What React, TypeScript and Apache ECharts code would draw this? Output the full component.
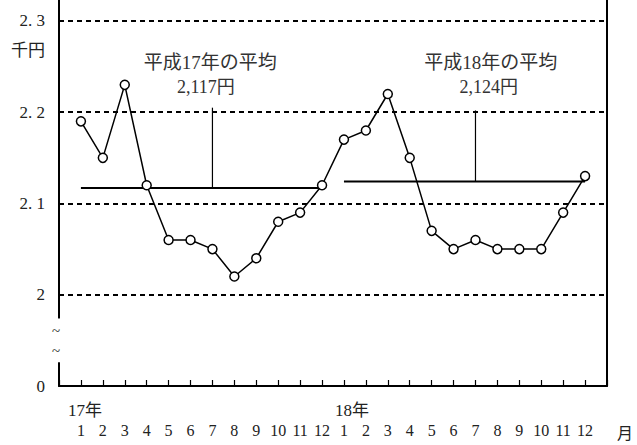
import React, { useEffect, useRef } from "react";
import * as echarts from "echarts";

const values17 = [2.19, 2.15, 2.23, 2.12, 2.06, 2.06, 2.05, 2.02, 2.04, 2.08, 2.09, 2.12];
const values18 = [2.17, 2.18, 2.22, 2.15, 2.07, 2.05, 2.06, 2.05, 2.05, 2.05, 2.09, 2.13];
const averages = [2.117, 2.124];
const avgMarkerTop = [2.205, 2.202];
const avgMarkerMonth = [7, 19];
const avgTitles = ["平成17年の平均", "平成18年の平均"];
const avgTexts = ["2,117円", "2,124円"];
const yearLabels = ["17年", "18年"];
const yTickValues = [1.9, 2.0, 2.1, 2.2, 2.3];
const yTickLabels = ["0", "2", "2. 1", "2. 2", "2. 3"];
const monthLabels = ["1", "2", "3", "4", "5", "6", "7", "8", "9", "10", "11", "12"];
const unitY = "千円";
const unitX = "月";

const FONT = "'Liberation Serif', 'Noto Sans CJK JP', serif";
const TXT = "#222";

export default function App() {
  const ref = useRef<HTMLDivElement>(null);
  useEffect(() => {
    if (!ref.current) return;
    const chart = echarts.init(ref.current, undefined, { renderer: "svg" });
    const mainData = [...values17, ...values18].map((v, i) => [i + 1, v]);
    const avgSeries: any[] = [];
    averages.forEach((a, k) => {
      avgSeries.push({
        type: "line",
        data: [[k * 12 + 1, a], [k * 12 + 12, a]],
        symbol: "none",
        lineStyle: { color: "#000", width: 2 },
        z: 2,
      });
      avgSeries.push({
        type: "line",
        data: [[avgMarkerMonth[k], a], [avgMarkerMonth[k], avgMarkerTop[k]]],
        symbol: "none",
        lineStyle: { color: "#000", width: 1.2 },
        z: 2,
      });
    });
    const axisLineStyle = { color: "#000", width: 2 };
    const option: any = {
      animation: false,
      backgroundColor: "#fff",
      textStyle: { fontFamily: FONT },
      grid: { left: 59, right: 30, top: 0, bottom: 59, containLabel: false },
      xAxis: {
        type: "value",
        min: 0,
        max: 25,
        interval: 1,
        axisLine: { show: true, onZero: false, lineStyle: axisLineStyle },
        axisTick: { show: true, inside: true, length: 6, lineStyle: { color: "#000", width: 1.2 } },
        axisLabel: {
          margin: 36,
          fontSize: 16,
          color: TXT,
          fontFamily: FONT,
          showMinLabel: true,
          showMaxLabel: true,
          formatter: (v: number) => {
            const r = Math.round(v);
            if (r < 1 || r > 24) return "";
            return monthLabels[(r - 1) % 12];
          },
        },
        splitLine: { show: false },
      },
      yAxis: [
        {
          type: "value",
          min: 1.9,
          max: 2.323,
          interval: 0.1,
          position: "left",
          axisLine: { show: true, lineStyle: axisLineStyle },
          axisTick: { show: false },
          axisLabel: {
            margin: 14,
            fontSize: 17,
            color: TXT,
            fontFamily: FONT,
            showMaxLabel: false,
            formatter: (v: number) => {
              const idx = yTickValues.findIndex((t) => Math.abs(t - v) < 1e-6);
              return idx >= 0 ? yTickLabels[idx] : "";
            },
          },
          splitLine: {
            show: true,
            showMinLine: false,
            showMaxLine: false,
            lineStyle: { type: [5, 4], color: "#000", width: 2 },
          },
        },
        {
          type: "value",
          min: 1.9,
          max: 2.323,
          position: "right",
          axisLine: { show: true, lineStyle: axisLineStyle },
          axisTick: { show: false },
          axisLabel: { show: false },
          splitLine: { show: false },
        },
      ],
      series: [
        ...avgSeries,
        {
          type: "line",
          data: mainData,
          symbol: "circle",
          symbolSize: 9,
          itemStyle: { color: "#fff", borderColor: "#000", borderWidth: 1.5 },
          lineStyle: { color: "#000", width: 1.5 },
          z: 5,
        },
      ],
    };
    chart.setOption(option);

    const px = (x: number, y: number) => chart.convertToPixel({ xAxisIndex: 0, yAxisIndex: 0 }, [x, y]) as number[];
    const axisX = px(0, 2)[0];
    const gapTop = px(0, 1.974)[1];
    const gapBot = px(0, 1.926)[1];
    const baseY = px(0, 1.9)[1];
    const tilde = (v: number) => ({
      type: "text",
      z: 101,
      x: axisX - 3,
      y: px(0, v)[1],
      style: { text: "~", fontSize: 15, fontFamily: FONT, fill: TXT, align: "center", verticalAlign: "middle" },
    });
    const graphics: any[] = [
      {
        type: "rect",
        z: 100,
        shape: { x: axisX - 4, y: gapTop, width: 8, height: gapBot - gapTop },
        style: { fill: "#fff" },
      },
      tilde(1.96),
      tilde(1.938),
      {
        type: "text",
        z: 101,
        x: axisX - 14,
        y: px(0, 2.268)[1],
        style: { text: unitY, fontSize: 17, fontFamily: FONT, fill: TXT, align: "right", verticalAlign: "middle" },
      },
      {
        type: "text",
        z: 101,
        x: px(25, 2)[0] + 10,
        y: baseY + 47,
        style: { text: unitX, fontSize: 16, fontFamily: FONT, fill: TXT, align: "left", verticalAlign: "middle" },
      },
    ];
    yearLabels.forEach((t, k) => {
      graphics.push({
        type: "text",
        z: 101,
        x: px(k * 12 + 1, 2)[0] - (k === 0 ? 13 : 9),
        y: baseY + 24,
        style: { text: t, fontSize: 17, fontFamily: FONT, fill: TXT, align: "left", verticalAlign: "middle" },
      });
    });
    const titleX = [6.9, 19.7];
    const textX = [6.7, 19.6];
    avgTitles.forEach((t, k) => {
      const p1 = px(titleX[k], 2.255);
      const p2 = px(textX[k], 2.228);
      graphics.push({
        type: "text",
        z: 101,
        x: p1[0],
        y: p1[1],
        style: { text: t, fontSize: 19, fontFamily: FONT, fill: "#333", align: "center", verticalAlign: "middle" },
      });
      graphics.push({
        type: "text",
        z: 101,
        x: p2[0],
        y: p2[1],
        style: { text: avgTexts[k], fontSize: 18, fontFamily: FONT, fill: "#333", align: "center", verticalAlign: "middle" },
      });
    });
    chart.setOption({ graphic: graphics });

    return () => chart.dispose();
  }, []);
  return <div ref={ref} style={{ position: "fixed", left: 0, top: 0, width: 637, height: 445 }} />;
}
